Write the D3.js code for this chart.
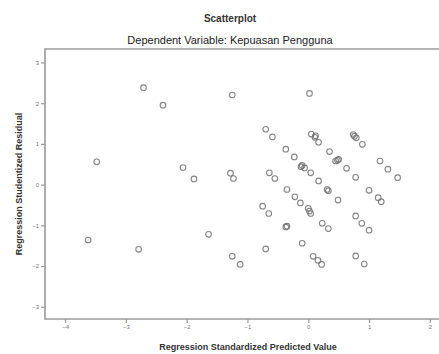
<!DOCTYPE html>
<html>
<head>
<meta charset="utf-8">
<script src="https://cdn.jsdelivr.net/npm/d3@7"></script>
<style>
  body { margin: 0; background: #fff; }
  text { font-family: "Liberation Sans", Arial, sans-serif; }
</style>
</head>
<body>
<div id="chart"></div>
<script>
// regression standardized predicted value (x) / studentized residual (y)
const predicted = [
  -2.71, -2.39, -1.25, 0.02, -3.48, -2.06, -1.88, -1.64, -3.62, -2.79,
  -1.25, -1.12, -0.70, -0.10, 0.08, 0.22, 0.78, 0.92, -0.70, -0.59,
  -0.37, -0.23, -0.10, -0.06, 0.04, 0.17, 0.33, 0.49, 0.05, 0.11,
  0.17, 0.35, 0.48, 0.63, 0.78, 0.74, 0.79, 0.89, 1.18, 1.31,
  1.47, 1.00, 1.15, 1.20, 0.78, 0.88, 1.00, -1.28, -1.23, -0.64,
  -0.55, -0.35, -0.22, -0.13, 0.00, 0.04, -0.75, -0.65, -0.37, 0.23,
  0.33, 0.16, -0.12, 0.31, 0.50, -0.35, 0.02, 0.12, 0.76, 0.45
];
const residual = [
  2.38, 1.95, 2.20, 2.24, 0.56, 0.42, 0.14, -1.22, -1.36, -1.59,
  -1.76, -1.96, -1.58, -1.44, -1.76, -1.96, -1.75, -1.95, 1.36, 1.17,
  0.87, 0.68, 0.47, 0.41, 0.29, 0.09, -0.15, -0.38, 1.24, 1.16,
  1.04, 0.81, 0.60, 0.40, 0.18, 1.23, 1.15, 0.99, 0.58, 0.38,
  0.17, -0.14, -0.32, -0.42, -0.77, -0.95, -1.12, 0.28, 0.15, 0.29,
  0.15, -0.12, -0.30, -0.45, -0.58, -0.71, -0.53, -0.71, -1.04, -0.95,
  -1.08, -1.86, 0.44, -0.12, 0.62, -1.02, -0.65, 1.20, 1.19, 0.58
];
const xTicks = [-4, -3, -2, -1, 0, 1, 2];
const yTicks = [-3, -2, -1, 0, 1, 2, 3];

const title = "Scatterplot";
const subtitle = "Dependent Variable: Kepuasan Pengguna";
const xLabel = "Regression Standardized Predicted Value";
const yLabel = "Regression Studentized Residual";

const width = 439, height = 354;
const plotLeft = 45, plotTop = 49, plotBottom = 319;

const svg = d3.select("#chart").append("svg")
  .attr("width", width)
  .attr("height", height);

const x = d3.scaleLinear().domain([-4.33, 2.2]).range([plotLeft, plotLeft + 6.53 * 60.8]);
const y = d3.scaleLinear().domain([-3.3, 3.33]).range([plotBottom, plotTop]);

// frame (top line runs off the right edge)
svg.append("path")
  .attr("d", `M${width},${plotTop}H${plotLeft}V${plotBottom}H${width}`)
  .attr("fill", "none")
  .attr("stroke", "#9a9a9a")
  .attr("stroke-width", 1.6);

// axes
const xAxis = svg.append("g")
  .attr("transform", "translate(0," + plotBottom + ")")
  .call(d3.axisBottom(x).tickValues(xTicks).tickSize(4).tickPadding(2).tickFormat(d3.format("d")));
const yAxis = svg.append("g")
  .attr("transform", "translate(" + plotLeft + ",0)")
  .call(d3.axisLeft(y).tickValues(yTicks).tickSize(4).tickPadding(2).tickFormat(d3.format("d")));

[xAxis, yAxis].forEach(g => {
  g.select(".domain").remove();
  g.selectAll(".tick line").attr("stroke", "#9a9a9a").attr("stroke-width", 1.2);
  g.selectAll(".tick text")
    .attr("fill", "#777")
    .style("font-size", "6px")
    .style("font-family", "'Liberation Sans', Arial, sans-serif");
});

// points
const pts = predicted.map((d, i) => ({ x: d, y: residual[i] }));
svg.append("g").selectAll("circle")
  .data(pts)
  .enter()
  .append("circle")
  .attr("cx", d => x(d.x))
  .attr("cy", d => y(d.y))
  .attr("r", 2.8)
  .attr("fill", "none")
  .attr("stroke", "#6e6e6e")
  .attr("stroke-opacity", 0.85)
  .attr("stroke-width", 1.1);

// titles
svg.append("text")
  .attr("x", 230).attr("y", 22)
  .attr("text-anchor", "middle")
  .style("font-size", "10px").style("font-weight", "bold")
  .attr("fill", "#333")
  .text(title);
svg.append("text")
  .attr("x", 230).attr("y", 44)
  .attr("text-anchor", "middle")
  .style("font-size", "11px")
  .attr("fill", "#222")
  .text(subtitle);

// axis labels
svg.append("text")
  .attr("x", 248).attr("y", 350)
  .attr("text-anchor", "middle")
  .style("font-size", "9px").style("font-weight", "bold")
  .attr("fill", "#333")
  .text(xLabel);
svg.append("text")
  .attr("transform", "translate(22,184) rotate(-90)")
  .attr("text-anchor", "middle")
  .style("font-size", "9px").style("font-weight", "bold")
  .attr("fill", "#333")
  .text(yLabel);
</script>
</body>
</html>
